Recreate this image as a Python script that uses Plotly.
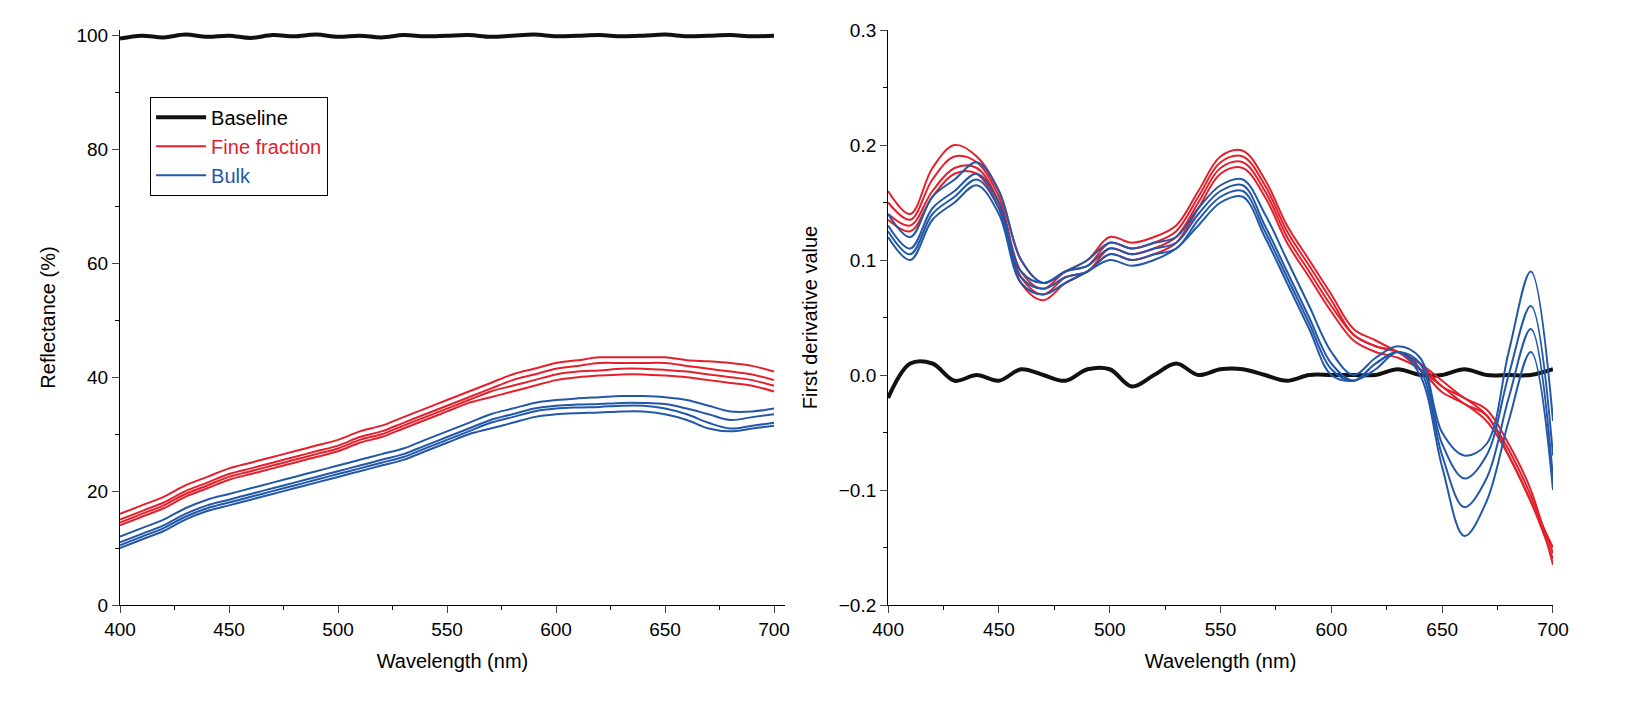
import plotly.graph_objects as go
from plotly.subplots import make_subplots

wl = list(range(400, 701, 10))

RED = '#e3202b'
BLUE = '#2358a8'
BLACK = '#111111'

# reflectance (%) - left panel
base_refl = [99.5,100,99.7,100.2,99.8,100,99.6,100.1,99.9,100.2,99.8,100,99.7,100.1,99.9,100,
             100.1,99.8,100,100.2,99.9,100,100.1,99.9,100,100.2,99.9,100,100.1,99.9,100]
fine_refl = [
    [16,17.5,19,21,22.5,24,25,26,27,28,29,30.5,31.5,33,34.5,36,37.5,39,40.5,41.5,42.5,43,43.5,43.5,43.5,43.5,43,42.8,42.5,42,41],
    [15,16.5,18,20,21.5,23,24,25,26,27,28,29.5,30.5,32,33.5,35,36.5,38,39.5,40.5,41.5,42,42.5,42.5,42.5,42.5,42,41.5,41,40.5,39.5],
    [14.5,16,17.5,19.5,21,22.5,23.5,24.5,25.5,26.5,27.5,29,30,31.5,33,34.5,36,37.5,38.5,39.5,40.5,41,41.2,41.5,41.5,41.3,41,40.5,40,39.5,38.5],
    [14,15.5,17,19,20.5,22,23,24,25,26,27,28.5,29.5,31,32.5,34,35.5,36.5,37.5,38.5,39.5,40,40.3,40.5,40.5,40.3,40,39.5,39,38.5,37.5],
]
bulk_refl = [
    [12,13.5,15,17,18.5,19.5,20.5,21.5,22.5,23.5,24.5,25.5,26.5,27.5,29,30.5,32,33.5,34.5,35.5,36,36.3,36.5,36.7,36.7,36.5,36,35,34,34,34.5],
    [11,12.5,14,16,17.5,18.5,19.5,20.5,21.5,22.5,23.5,24.5,25.5,26.5,28,29.5,31,32.5,33.5,34.5,35,35.2,35.3,35.5,35.5,35.3,34.5,33.5,32.5,33,33.5],
    [10.5,12,13.5,15.5,17,18,19,20,21,22,23,24,25,26,27.5,29,30.5,32,33,34,34.5,34.7,34.8,35,35,34.5,33.5,32,31,31.5,32],
    [10,11.5,13,15,16.5,17.5,18.5,19.5,20.5,21.5,22.5,23.5,24.5,25.5,27,28.5,30,31,32,33,33.5,33.7,33.8,34,34,33.5,32.5,31,30.5,31,31.5],
]

# first derivative - right panel
base_deriv = [-0.02,0.01,0.01,-0.005,0.0,-0.005,0.005,0.0,-0.005,0.005,0.005,-0.01,0.0,0.01,0.0,0.005,
              0.005,0.0,-0.005,0.0,0.0,0.0,0.0,0.005,0.0,0.0,0.005,0.0,0.0,0.0,0.005]
fine_deriv = [
    [0.16,0.14,0.18,0.20,0.19,0.16,0.10,0.08,0.09,0.10,0.12,0.115,0.12,0.13,0.16,0.19,0.195,0.17,0.13,0.10,0.07,0.04,0.03,0.02,0.01,-0.005,-0.02,-0.03,-0.06,-0.10,-0.165],
    [0.15,0.135,0.17,0.19,0.185,0.155,0.09,0.075,0.09,0.095,0.115,0.11,0.115,0.125,0.155,0.185,0.19,0.165,0.125,0.095,0.065,0.035,0.025,0.02,0.01,-0.01,-0.02,-0.035,-0.065,-0.105,-0.155],
    [0.14,0.13,0.16,0.18,0.18,0.15,0.085,0.07,0.085,0.09,0.11,0.105,0.11,0.12,0.15,0.18,0.185,0.16,0.12,0.09,0.06,0.035,0.025,0.02,0.005,-0.01,-0.025,-0.035,-0.07,-0.11,-0.16],
    [0.135,0.125,0.155,0.175,0.175,0.145,0.08,0.065,0.08,0.09,0.105,0.10,0.105,0.115,0.145,0.175,0.18,0.155,0.115,0.085,0.055,0.03,0.02,0.015,0.005,-0.015,-0.025,-0.04,-0.07,-0.11,-0.15],
]
bulk_deriv = [
    [0.14,0.12,0.155,0.17,0.185,0.16,0.10,0.08,0.09,0.10,0.115,0.11,0.115,0.12,0.145,0.165,0.17,0.14,0.10,0.06,0.02,0.0,0.015,0.025,0.015,-0.05,-0.07,-0.06,0.02,0.09,-0.04],
    [0.13,0.11,0.145,0.16,0.175,0.15,0.09,0.08,0.09,0.095,0.11,0.105,0.11,0.115,0.14,0.16,0.165,0.13,0.09,0.05,0.01,-0.005,0.01,0.02,0.01,-0.06,-0.09,-0.07,0.0,0.06,-0.07],
    [0.125,0.105,0.14,0.155,0.17,0.145,0.085,0.075,0.085,0.09,0.105,0.10,0.105,0.11,0.135,0.155,0.16,0.125,0.085,0.045,0.005,-0.005,0.01,0.02,0.005,-0.07,-0.115,-0.09,-0.02,0.04,-0.09],
    [0.12,0.10,0.135,0.15,0.165,0.14,0.08,0.07,0.08,0.09,0.10,0.095,0.10,0.11,0.13,0.15,0.155,0.12,0.08,0.04,0.0,-0.005,0.005,0.02,0.0,-0.08,-0.14,-0.11,-0.04,0.02,-0.10],
]

fig = make_subplots(rows=1, cols=2, horizontal_spacing=0.072)

def add_group(col, series, color, name, show):
    for i, ys in enumerate(series):
        fig.add_trace(go.Scatter(x=wl, y=ys, mode='lines', line=dict(color=color, width=2, shape='spline'),
                                 name=name, legendgroup=name, showlegend=(show and i == 0)), row=1, col=col)

add_group(1, fine_refl, RED, "<span style='color:%s'>Fine fraction</span>" % RED, True)
add_group(1, bulk_refl, BLUE, "<span style='color:%s'>Bulk</span>" % BLUE, True)
fig.add_trace(go.Scatter(x=wl, y=base_refl, mode='lines', line=dict(color=BLACK, width=4, shape='spline'),
                         name='Baseline', legendrank=1), row=1, col=1)
fig.add_trace(go.Scatter(x=wl, y=base_deriv, mode='lines', line=dict(color=BLACK, width=4, shape='spline'),
                         showlegend=False), row=1, col=2)
add_group(2, fine_deriv, RED, 'fine', False)
add_group(2, bulk_deriv, BLUE, 'bulk', False)

ax = dict(showline=True, linecolor='black', linewidth=1, ticks='outside', ticklen=7,
          showgrid=False, zeroline=False, tickfont=dict(size=19, color='black'),
          title_font=dict(size=20, color='black'),
          minor=dict(ticks='outside', ticklen=4, tickcolor='black'))
fig.update_xaxes(ax, range=[400, 705], dtick=50, minor_dtick=25, title_text='Wavelength (nm)', row=1, col=1)
fig.update_xaxes(ax, range=[400, 700], dtick=50, minor_dtick=25, title_text='Wavelength (nm)', row=1, col=2)
fig.update_yaxes(ax, range=[0, 101], dtick=20, minor_dtick=10, title_text='Reflectance (%)', row=1, col=1)
fig.update_yaxes(ax, range=[-0.2, 0.3], dtick=0.1, minor_dtick=0.05, tickformat='.1f',
                 title_text='First derivative value', row=1, col=2)

fig.update_layout(
    width=1649, height=728, plot_bgcolor='white', paper_bgcolor='white',
    margin=dict(l=112, r=104, t=18, b=131),
    font=dict(family='Liberation Sans, Arial', color='black'),
    legend=dict(x=0.021, y=0.884, xanchor='left', yanchor='top', bordercolor='black', borderwidth=1,
                font=dict(size=20), traceorder='normal', itemwidth=50),
    separators='.\u2212',
)

fig.write_html("out.html")
